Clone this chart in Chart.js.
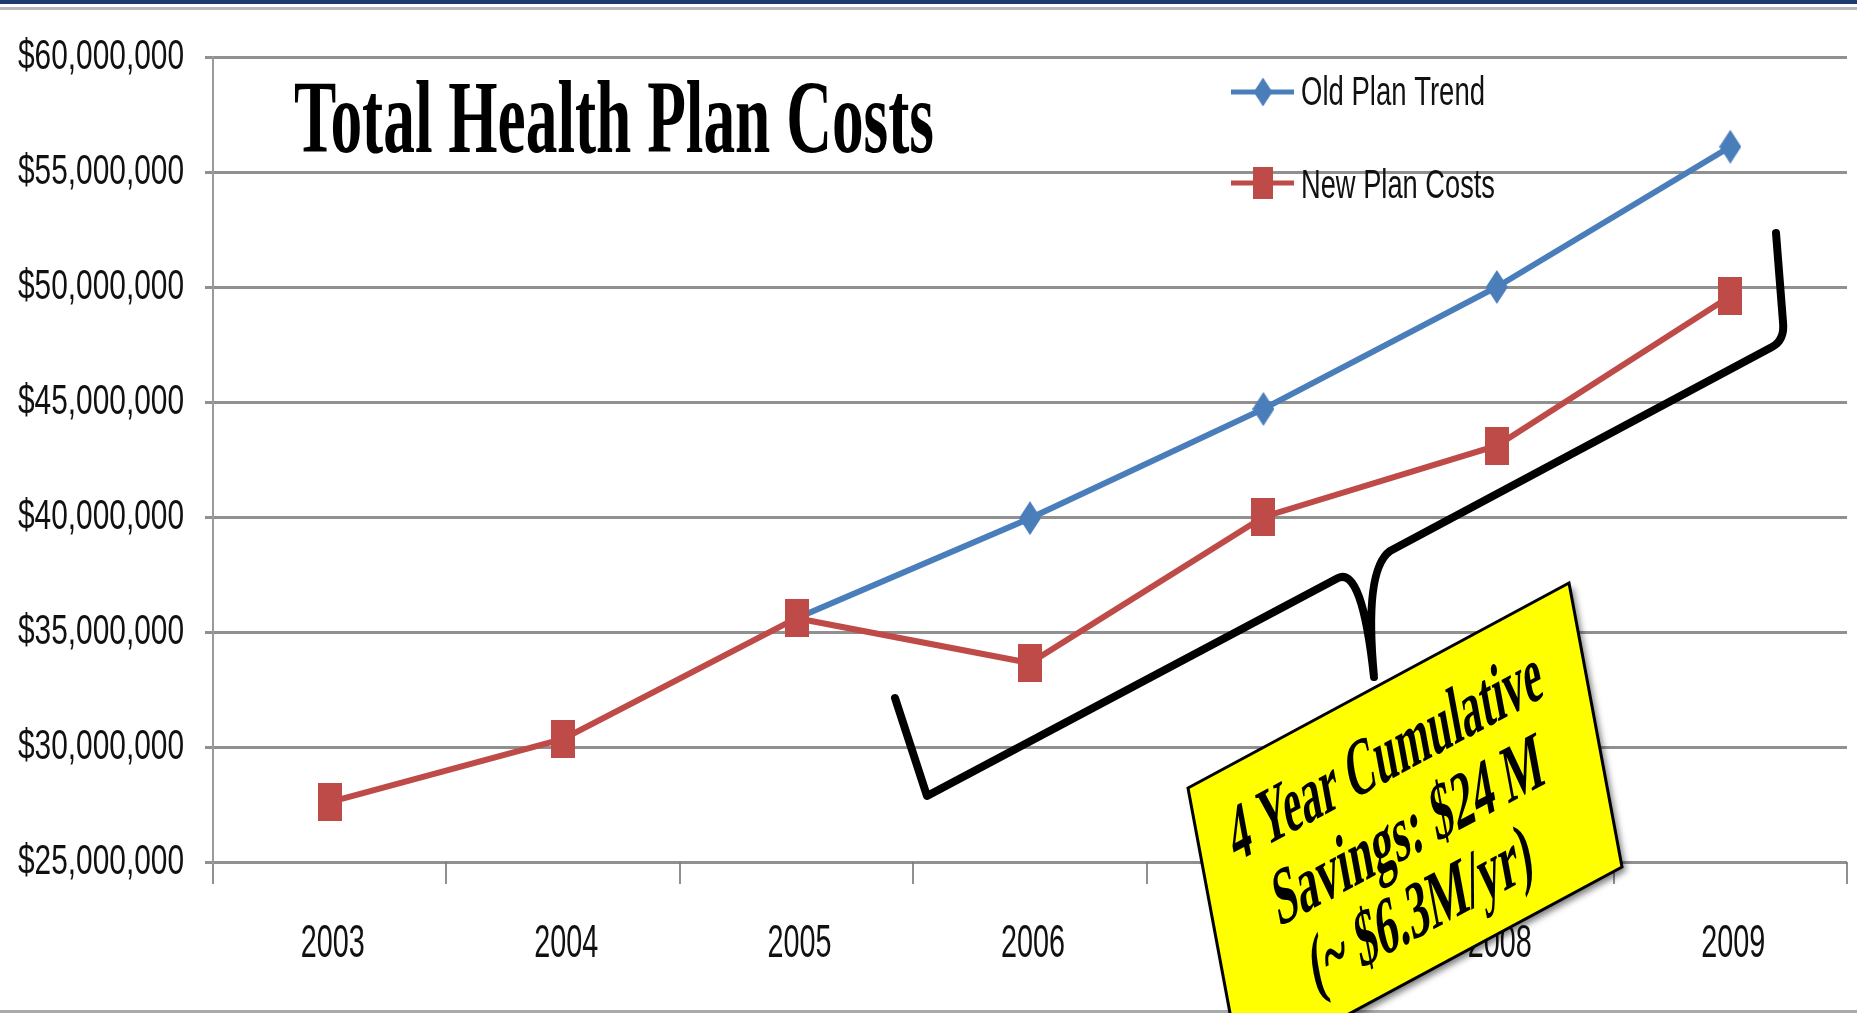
<!DOCTYPE html>
<html>
<head>
<meta charset="utf-8">
<title>Total Health Plan Costs</title>
<script src="https://cdn.jsdelivr.net/npm/chart.js@4.4.1/dist/chart.umd.min.js"></script>
<style>
    html, body { margin: 0; padding: 0; background: #fff; }
    #wrap { width: 1857px; height: 1013px; }
</style>
</head>
<body>
<div id="wrap"><canvas id="costChart" width="1857" height="1013"></canvas></div>
<script>
// chart data (dollars)
const years = ['2003', '2004', '2005', '2006', '2007', '2008', '2009'];
const oldPlanTrend = [null, null, 35600000, 39950000, 44700000, 50000000, 56100000];
const newPlanCosts = [27600000, 30350000, 35600000, 33650000, 40000000, 43100000, 49600000];
const yMin = 25000000;
const yMax = 60000000;
const yStep = 5000000;

const chartTitle = 'Total Health Plan Costs';
const legendLabels = ['Old Plan Trend', 'New Plan Costs'];
const calloutLines = ['4 Year Cumulative', 'Savings: $24 M', '(~ $6.3M/yr)'];

const BLUE = '#4A7EBB';
const RED = '#BE4B48';
const GRID = 'rgba(125,125,125,0.85)';
const SANS = '"Liberation Sans", Arial, sans-serif';
const SERIF = '"Liberation Serif", "Times New Roman", serif';

function money(v) {
    return '$' + Number(v).toLocaleString('en-US');
}

// marker images (the source picture is squashed, so markers are taller than wide)
function makeRect(w, h, color) {
    const c = document.createElement('canvas');
    c.width = w; c.height = h;
    const x = c.getContext('2d');
    x.fillStyle = color;
    x.fillRect(0, 0, w, h);
    return c;
}
function makeDiamond(w, h, color) {
    const c = document.createElement('canvas');
    c.width = w; c.height = h;
    const x = c.getContext('2d');
    x.fillStyle = color;
    x.beginPath();
    x.moveTo(w / 2, 0); x.lineTo(w, h / 2); x.lineTo(w / 2, h); x.lineTo(0, h / 2);
    x.closePath();
    x.fill();
    return c;
}
const diamondImg = makeDiamond(22, 34, BLUE);
const squareImg = makeRect(24, 38, RED);

// draw text squeezed horizontally by sx
function squeezeText(ctx, text, x, y, font, sx, align) {
    ctx.save();
    ctx.font = font;
    ctx.translate(x, y);
    ctx.scale(sx, 1);
    ctx.textAlign = align || 'left';
    ctx.fillText(text, 0, 0);
    ctx.restore();
}
// draw text squeezed to a given width
function fitText(ctx, text, x, y, font, width, align) {
    ctx.save();
    ctx.font = font;
    const sx = width / ctx.measureText(text).width;
    ctx.restore();
    squeezeText(ctx, text, x, y, font, sx, align);
}

// condensed tick labels, placed by the chart's own scales
const axisLabels = {
    id: 'axisLabels',
    afterDraw(chart) {
        const ctx = chart.ctx;
        const ys = chart.scales.y, xs = chart.scales.x;
        ctx.save();
        ctx.fillStyle = '#111';
        ctx.textBaseline = 'middle';

        const yFont = '43px ' + SANS;
        ctx.font = yFont;
        const ysx = 166 / ctx.measureText(money(yMax)).width;
        ys.ticks.forEach((t, i) => {
            squeezeText(ctx, money(t.value), ys.right - 29, ys.getPixelForTick(i), yFont, ysx, 'right');
        });

        const xFont = '47px ' + SANS;
        ctx.font = xFont;
        const xsx = 64 / ctx.measureText(years[0]).width;
        xs.ticks.forEach((t, i) => {
            squeezeText(ctx, xs.getLabelForValue(t.value), xs.getPixelForTick(i) + 3, xs.top + 82, xFont, xsx, 'center');
        });
        ctx.restore();
    }
};

const decorations = {
    id: 'decorations',
    beforeDraw(chart) {
        const ctx = chart.ctx;
        ctx.save();
        ctx.fillStyle = '#fff';
        ctx.fillRect(0, 0, chart.width, chart.height);
        // slide frame lines
        ctx.fillStyle = '#1F3A70';
        ctx.fillRect(0, 0, chart.width, 4);
        ctx.fillStyle = '#b8b8b8';
        ctx.fillRect(0, 7, chart.width, 3);
        ctx.fillStyle = '#aaa';
        ctx.fillRect(0, chart.height - 3, chart.width, 3);
        ctx.restore();
    },
    afterDraw(chart) {
        const ctx = chart.ctx;
        ctx.save();

        // title
        ctx.fillStyle = '#000';
        ctx.textBaseline = 'alphabetic';
        fitText(ctx, chartTitle, 294, 152, 'bold 104px ' + SERIF, 640);

        // legend
        const rows = [
            { y: 92, img: diamondImg, color: BLUE, text: legendLabels[0], w: 184, base: 105 },
            { y: 183, img: squareImg, color: RED, text: legendLabels[1], w: 194, base: 198 }
        ];
        rows.forEach(r => {
            ctx.strokeStyle = r.color;
            ctx.lineWidth = 5;
            ctx.beginPath();
            ctx.moveTo(1231, r.y); ctx.lineTo(1294, r.y);
            ctx.stroke();
            const iw = r.img.width * 0.85, ih = r.img.height * 0.85;
            ctx.drawImage(r.img, 1263 - iw / 2, r.y - ih / 2, iw, ih);
            ctx.fillStyle = '#111';
            fitText(ctx, r.text, 1301, r.base, '41px ' + SANS, r.w);
        });

        // brace
        ctx.strokeStyle = '#000';
        ctx.lineWidth = 8;
        ctx.lineJoin = 'round';
        ctx.lineCap = 'round';
        ctx.beginPath();
        ctx.moveTo(895, 698);
        ctx.lineTo(927, 796);
        ctx.lineTo(1338, 578);
        ctx.quadraticCurveTo(1362, 566, 1374, 677);
        ctx.quadraticCurveTo(1364, 570, 1390, 551);
        ctx.lineTo(1772, 347);
        ctx.quadraticCurveTo(1785, 340, 1783, 322);
        ctx.lineTo(1776, 233);
        ctx.stroke();

        // yellow callout (sheared box, runs off the bottom)
        const o = { x: 1188, y: 788 };
        const top = { x: 381, y: -205 };
        const side = { x: 53, y: 284 };
        const boxPath = () => {
            ctx.beginPath();
            ctx.moveTo(o.x, o.y);
            ctx.lineTo(o.x + top.x, o.y + top.y);
            ctx.lineTo(o.x + top.x + side.x, o.y + top.y + side.y);
            ctx.lineTo(o.x + side.x, o.y + side.y);
            ctx.closePath();
        };
        ctx.save();
        ctx.shadowColor = 'rgba(0,0,0,0.5)';
        ctx.shadowBlur = 6;
        ctx.shadowOffsetX = 4;
        ctx.shadowOffsetY = 4;
        boxPath();
        ctx.fillStyle = '#FFFF00';
        ctx.fill();
        ctx.restore();
        boxPath();
        ctx.strokeStyle = '#000';
        ctx.lineWidth = 3;
        ctx.lineJoin = 'miter';
        ctx.stroke();

        // callout text in box space
        const lt = Math.hypot(top.x, top.y), ls = Math.hypot(side.x, side.y);
        ctx.setTransform(top.x / lt, top.y / lt, side.x / ls, side.y / ls, o.x, o.y);
        ctx.fillStyle = '#000';
        ctx.textBaseline = 'middle';
        const spots = [{ a: 210, b: 72, w: 352 }, { a: 219, b: 153, w: 304 }, { a: 217, b: 232, w: 250 }];
        calloutLines.forEach((t, i) => {
            fitText(ctx, t, spots[i].a, spots[i].b, 'bold 80px ' + SERIF, spots[i].w, 'center');
        });
        ctx.restore();
    }
};

const ctx = document.getElementById('costChart').getContext('2d');
new Chart(ctx, {
    type: 'line',
    data: {
        labels: years,
        datasets: [
            {
                label: legendLabels[1],
                data: newPlanCosts,
                borderColor: RED,
                backgroundColor: RED,
                borderWidth: 6,
                pointStyle: squareImg,
                tension: 0,
                order: 0
            },
            {
                label: legendLabels[0],
                data: oldPlanTrend,
                borderColor: BLUE,
                backgroundColor: BLUE,
                borderWidth: 6,
                pointStyle: diamondImg,
                tension: 0,
                order: 1
            }
        ]
    },
    options: {
        responsive: false,
        animation: false,
        layout: { padding: { top: 57, right: -4, left: 0, bottom: 0 } },
        plugins: {
            legend: { display: false },
            title: { display: false },
            tooltip: { enabled: false }
        },
        scales: {
            x: {
                offset: true,
                grid: { drawOnChartArea: false, offset: true, tickLength: 22, color: GRID, lineWidth: 2 },
                border: { display: false },
                ticks: { display: false },
                afterFit(scale) { scale.height = 151; }
            },
            y: {
                min: yMin,
                max: yMax,
                grid: { color: GRID, lineWidth: 3, tickLength: 8 },
                border: { color: '#9a9a9a', width: 2 },
                ticks: { display: false, stepSize: yStep, callback: v => money(v) },
                afterFit(scale) { scale.width = 213; }
            }
        }
    },
    plugins: [axisLabels, decorations]
});
</script>
</body>
</html>
